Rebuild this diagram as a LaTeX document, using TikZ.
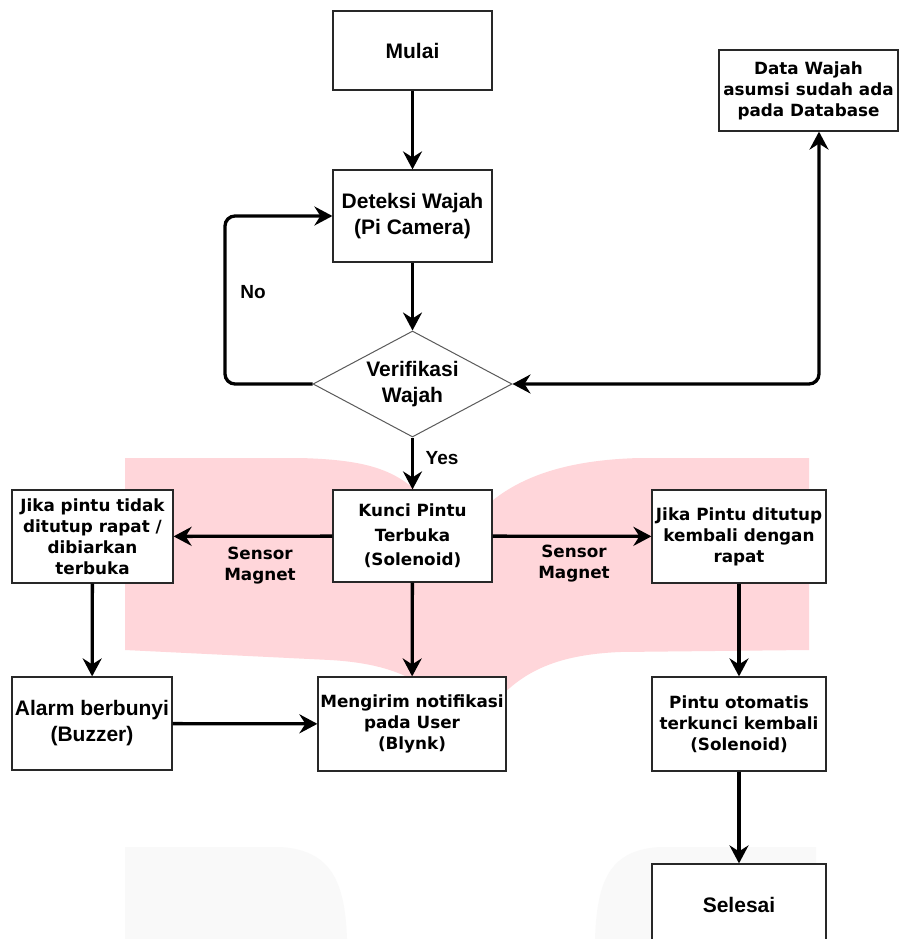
\documentclass[tikz,border=0pt]{standalone}
\usepackage{fontspec}
\setmainfont{DejaVu Sans}
\newfontfamily\libsans{Liberation Sans}
\usetikzlibrary{arrows.meta,shapes.geometric}
\definecolor{bookpink}{RGB}{255,214,218}
\definecolor{wmgray}{RGB}{249,249,249}
\definecolor{edgegray}{RGB}{40,40,40}
\definecolor{diagray}{RGB}{90,90,90}
\tikzset{
  box/.style={draw=edgegray, line width=1.2pt, fill=white, rectangle, inner sep=0pt, align=center, text=black},
  dj/.style={font=\fontsize{16.8}{21}\selectfont\bfseries},
  djk/.style={font=\fontsize{16.8}{24.5}\selectfont\bfseries},
  ar/.style={font=\libsans\fontsize{21}{26}\selectfont\bfseries},
  lbl/.style={font=\libsans\fontsize{19}{23}\selectfont\bfseries, inner sep=0pt, text=black},
  tip/.tip={Stealth[length=18pt,width=19pt,inset=6pt]},
  flow/.style={line width=3.3pt, draw=black, -tip},
  flowboth/.style={line width=3.3pt, draw=black, tip-tip},
}
\begin{document}
\begin{tikzpicture}[x=1pt,y=-1pt]
\useasboundingbox (0,0) rectangle (910,939);
\fill[white] (0,0) rectangle (910,939);
% watermark
\fill[bookpink] (125,458) -- (300,458) .. controls (370,460) and (400,470) .. (430,505)
  -- (465,530) .. controls (500,480) and (560,460) .. (640,458) -- (809,458) -- (809,650)
  -- (620,652) .. controls (550,655) and (515,675) .. (485,715) -- (450,715)
  .. controls (430,685) and (400,664) .. (330,660) -- (125,650) -- cycle;
\fill[wmgray] (125,847) -- (280,847) .. controls (330,850) and (345,880) .. (347,939) -- (125,939) -- cycle;
\fill[wmgray] (816,847) -- (660,847) .. controls (610,850) and (597,880) .. (595,939) -- (816,939) -- cycle;

% nodes
\node[box, ar, minimum width=159pt, minimum height=79pt] (mulai) at (412.5,50.5) {Mulai};
\node[box, dj, minimum width=179pt, minimum height=81pt] (data) at (808.5,90.5) {Data Wajah\\asumsi sudah ada\\pada Database};
\node[box, ar, minimum width=159pt, minimum height=92pt] (det) at (412.5,216) {Deteksi Wajah\\(Pi Camera)};
\node[diamond, draw=diagray, line width=1pt, fill=white, minimum width=199pt, minimum height=106pt, inner sep=0pt] (ver) at (412.5,384) {};
\node[ar, align=center, inner sep=0pt] (vertext) at (ver.center) {Verifikasi\\Wajah};
\node[box, djk, minimum width=159pt, minimum height=92pt] (kunci) at (412.5,536) {Kunci Pintu\\Terbuka\\(Solenoid)};
\node[box, dj, minimum width=161pt, minimum height=93pt] (kiri) at (92.5,536.5) {Jika pintu tidak\\ditutup rapat /\\dibiarkan\\terbuka};
\node[box, dj, minimum width=174pt, minimum height=93pt] (kanan) at (739,536.5) {Jika Pintu ditutup\\kembali dengan\\rapat};
\node[box, ar, minimum width=160pt, minimum height=93pt] (alarm) at (92,723.5) {Alarm berbunyi\\(Buzzer)};
\node[box, dj, minimum width=188pt, minimum height=94pt] (kirim) at (412,724) {Mengirim notifikasi\\pada User\\(Blynk)};
\node[box, dj, minimum width=174pt, minimum height=94pt] (otomatis) at (739,724) {Pintu otomatis\\terkunci kembali\\(Solenoid)};
\node[box, ar, minimum width=174pt, minimum height=82pt] (selesai) at (739,905) {Selesai};

% labels
\node[lbl] (no) at (253,292) {No};
\node[lbl] (yes) at (442,458) {Yes};
\node[dj, align=center, inner sep=0pt, text=black] (sm1) at (260,566) {Sensor\\Magnet};
\node[dj, align=center, inner sep=0pt, text=black] (sm2) at (574,564) {Sensor\\Magnet};

% connectors
\coordinate (loopA) at (225,384);
\coordinate (loopB) at (225,216);
\coordinate (dbA) at (819,384);
\draw[flow] (mulai) -- (det);
\draw[flow] (det) -- (ver.north);
\draw[flow, rounded corners=10pt] (ver.west) -- (loopA) -- (loopB) -- (det.west);
\draw[flowboth, rounded corners=10pt] (ver.east) -- (dbA) -- (dbA |- data.south);
\draw[flow] (ver.south) -- (kunci);
\draw[flow] (kunci) -- (kiri);
\draw[flow] (kunci) -- (kanan);
\draw[flow] (kunci) -- (kirim);
\draw[flow] (kiri) -- (alarm);
\draw[flow] (alarm) -- (kirim);
\draw[flow] (kanan) -- (otomatis);
\draw[flow] (otomatis) -- (selesai);
\end{tikzpicture}
\end{document}
